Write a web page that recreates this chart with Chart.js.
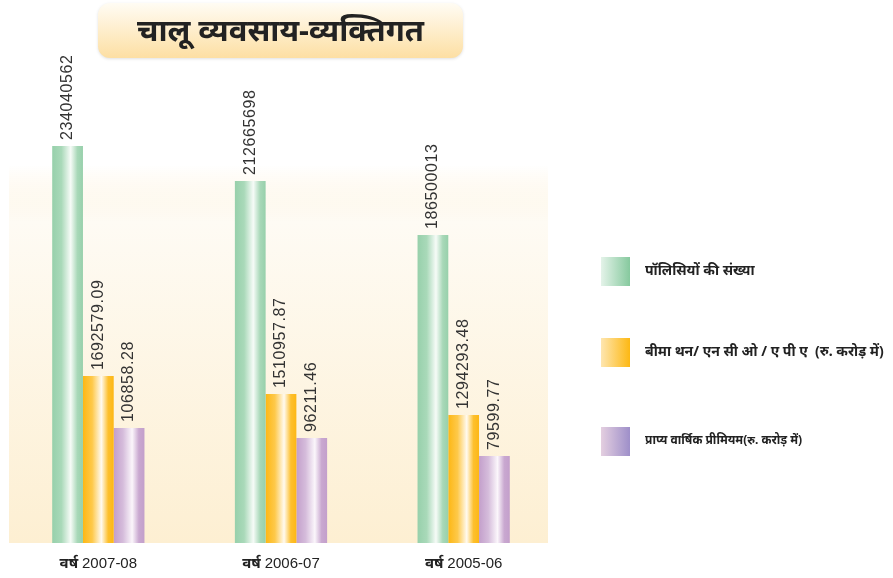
<!DOCTYPE html>
<html>
<head>
<meta charset="utf-8">
<script src="https://cdn.jsdelivr.net/npm/chart.js@4/dist/chart.umd.min.js"></script>
<style>
  html, body { margin: 0; padding: 0; background: #fff; }
  #wrap { width: 893px; height: 578px; }
</style>
</head>
<body>
<div id="wrap"><canvas id="bizChart" width="893" height="578"></canvas></div>
<script>
const years = ['2007-08', '2006-07', '2005-06'];
const yearPrefix = 'वर्ष';

// bar heights as drawn in the picture (not to scale with the printed values)
const policiesBars = [397, 362, 308];
const sumAssuredBars = [167, 149, 128];
const premiumBars = [115, 105, 87];

// printed values on top of the bars
const policiesText = ['234040562', '212665698', '186500013'];
const sumAssuredText = ['1692579.09', '1510957.87', '1294293.48'];
const premiumText = ['106858.28', '96211.46', '79599.77'];

const seriesNames = [
    'पॉलिसियों की संख्या',
    'बीमा थन/ एन सी ओ / ए पी ए  (रु. करोड़ में)',
    'प्राप्य वार्षिक प्रीमियम(रु. करोड़ में)'
];
const chartTitle = 'चालू व्यवसाय-व्यक्तिगत';

const DEV = '"Noto Sans", "Noto Sans Devanagari", "Lohit Devanagari", sans-serif';

// edge/centre colours for the bar shading
const barStops = [
    [[0, '#97d0ab'], [0.3, '#a9d9b9'], [0.6, '#f6fbf7'], [0.82, '#a8d8b8'], [1, '#97d0ab']],
    [[0, '#fdb715'], [0.3, '#fec94a'], [0.6, '#fffaf0'], [0.82, '#fdc02e'], [1, '#fdb715']],
    [[0, '#c39fcb'], [0.3, '#d5bcdb'], [0.6, '#fbf6fb'], [0.82, '#c9a8d0'], [1, '#c39fcb']]
];
const swatchStops = [
    ['#e4f3e9', '#86c99e'],
    ['#fee6b0', '#fdb813'],
    ['#e4cfe0', '#9e8fc9']
];
const labelTexts = [policiesText, sumAssuredText, premiumText];

const ctx = document.getElementById('bizChart').getContext('2d');

const chart = new Chart(ctx, {
    type: 'bar',
    data: {
        labels: years,
        datasets: [
            { label: seriesNames[0], data: policiesBars, backgroundColor: '#97d0ab' },
            { label: seriesNames[1], data: sumAssuredBars, backgroundColor: '#fdb715' },
            { label: seriesNames[2], data: premiumBars, backgroundColor: '#c39fcb' }
        ]
    },
    options: {
        responsive: false,
        animation: false,
        layout: { padding: { left: 7, right: 338, top: 43, bottom: 35 } },
        datasets: { bar: { categoryPercentage: 0.505, barPercentage: 1 } },
        plugins: {
            legend: { display: false },
            title: { display: false },
            tooltip: { enabled: false }
        },
        scales: {
            x: { display: false },
            y: { display: false, min: 0, max: 500 }
        }
    },
    plugins: [{
        id: 'decor',
        beforeDatasetsDraw(chart) {
            const { ctx, chartArea } = chart;
            // cream panel behind the bars
            const top = 165;
            const g = ctx.createLinearGradient(0, top, 0, chartArea.bottom);
            g.addColorStop(0, 'rgba(253,239,210,0)');
            g.addColorStop(0.15, '#fefbf4');
            g.addColorStop(1, '#fdefd2');
            ctx.save();
            ctx.fillStyle = g;
            ctx.fillRect(chartArea.left + 2, top, chartArea.right - chartArea.left - 9, chartArea.bottom - top);
            ctx.restore();

            // shade every bar across its width (options are shared, so copy them)
            chart.data.datasets.forEach((ds, di) => {
                chart.getDatasetMeta(di).data.forEach(bar => {
                    const x0 = bar.x - bar.width / 2;
                    const bg = ctx.createLinearGradient(x0, 0, x0 + bar.width, 0);
                    barStops[di].forEach(s => bg.addColorStop(s[0], s[1]));
                    bar.options = Object.assign({}, bar.options, { backgroundColor: bg });
                });
            });
        },
        afterDatasetsDraw(chart) {
            const { ctx, chartArea } = chart;
            ctx.save();
            // rotated values above bars
            ctx.fillStyle = '#333';
            ctx.font = '16px "Liberation Sans", Arial, sans-serif';
            ctx.letterSpacing = '0.6px';
            ctx.textAlign = 'left';
            ctx.textBaseline = 'middle';
            chart.data.datasets.forEach((ds, di) => {
                chart.getDatasetMeta(di).data.forEach((bar, i) => {
                    ctx.save();
                    ctx.translate(bar.x, bar.y - 6);
                    ctx.rotate(-Math.PI / 2);
                    ctx.fillText(labelTexts[di][i], 0, 0);
                    ctx.restore();
                });
            });
            ctx.letterSpacing = '0px';

            // category labels
            const xs = chart.scales.x;
            ctx.textBaseline = 'middle';
            years.forEach((y, i) => {
                const cx = xs.getPixelForValue(i);
                ctx.font = 'bold 15px ' + DEV;
                const w1 = ctx.measureText(yearPrefix + ' ').width;
                ctx.font = '15px "Liberation Sans", Arial, sans-serif';
                const w2 = ctx.measureText(y).width;
                let x = cx - (w1 + w2) / 2;
                ctx.fillStyle = '#222';
                ctx.textAlign = 'left';
                ctx.font = 'bold 15px ' + DEV;
                ctx.fillText(yearPrefix + ' ', x, chartArea.bottom + 21);
                ctx.font = '15px "Liberation Sans", Arial, sans-serif';
                ctx.fillText(y, x + w1, chartArea.bottom + 21);
            });

            // title box
            const bx = 98, by = 3, bw = 365, bh = 55;
            const tg = ctx.createLinearGradient(0, by, 0, by + bh);
            tg.addColorStop(0, '#fffcf4');
            tg.addColorStop(1, '#fddfa3');
            ctx.shadowColor = 'rgba(0,0,0,0.12)';
            ctx.shadowBlur = 3;
            ctx.shadowOffsetY = 1;
            ctx.fillStyle = tg;
            ctx.beginPath();
            ctx.roundRect(bx, by, bw, bh, 12);
            ctx.fill();
            ctx.shadowColor = 'transparent';
            ctx.fillStyle = '#222';
            ctx.font = 'bold 31px ' + DEV;
            ctx.textAlign = 'center';
            ctx.textBaseline = 'middle';
            ctx.fillText(chartTitle, bx + bw / 2, by + bh / 2 + 2);

            // legend on the right
            const legendY = [257, 338, 427];
            const legendFont = ['bold 14px ', 'bold 14px ', 'bold 12px '];
            chart.data.datasets.forEach((ds, di) => {
                const sy = legendY[di];
                const sg = ctx.createLinearGradient(601, 0, 630, 0);
                sg.addColorStop(0, swatchStops[di][0]);
                sg.addColorStop(1, swatchStops[di][1]);
                ctx.fillStyle = sg;
                ctx.fillRect(601, sy, 29, 29);
                ctx.fillStyle = '#222';
                ctx.font = legendFont[di] + DEV;
                ctx.textAlign = 'left';
                ctx.textBaseline = 'middle';
                ctx.fillText(ds.label, 645, sy + 14);
            });
            ctx.restore();
        }
    }]
});
</script>
</body>
</html>
